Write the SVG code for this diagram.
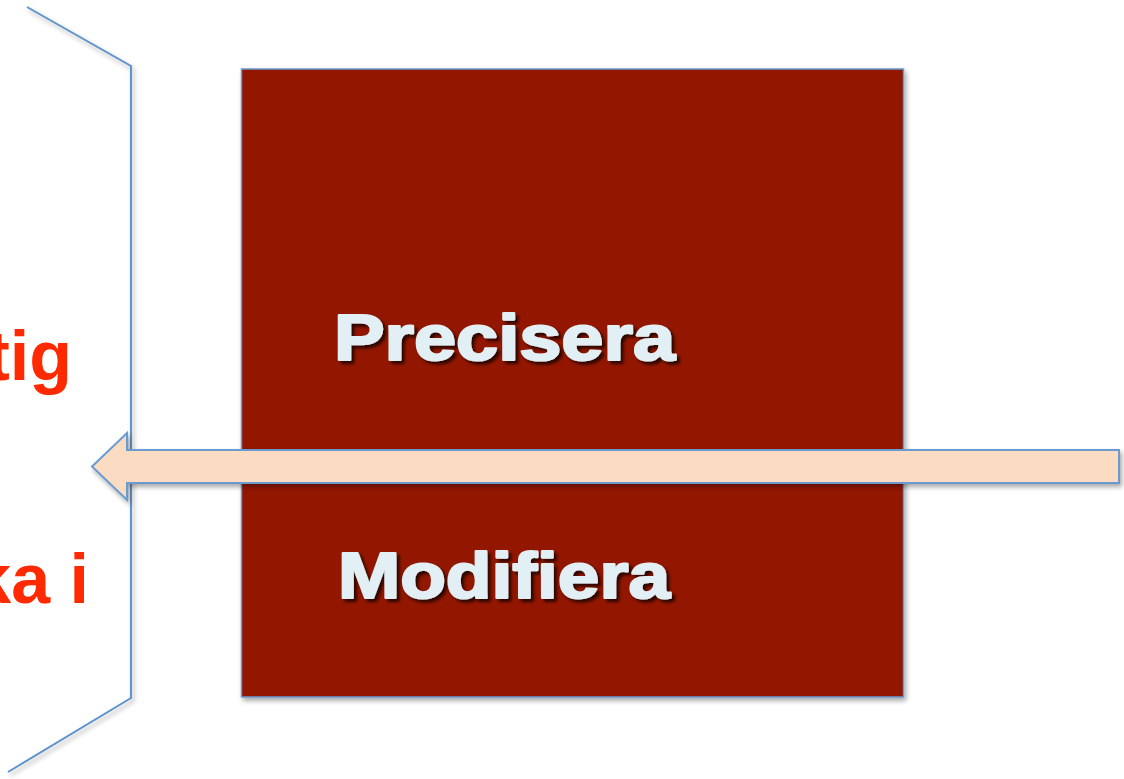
<svg xmlns="http://www.w3.org/2000/svg" width="1124" height="779" viewBox="0 0 1124 779">
<defs>
<filter id="sh" x="-10%" y="-10%" width="130%" height="130%">
<feGaussianBlur in="SourceAlpha" stdDeviation="2.5"/>
<feOffset dx="2" dy="3" result="b"/>
<feComponentTransfer><feFuncA type="linear" slope="0.35"/></feComponentTransfer>
<feMerge><feMergeNode/><feMergeNode in="SourceGraphic"/></feMerge>
</filter>
<filter id="tsh" x="-10%" y="-20%" width="130%" height="150%">
<feGaussianBlur in="SourceAlpha" stdDeviation="1.5"/>
<feOffset dx="3" dy="3"/>
<feComponentTransfer><feFuncA type="linear" slope="0.7"/></feComponentTransfer>
<feMerge><feMergeNode/><feMergeNode in="SourceGraphic"/></feMerge>
</filter>
</defs>
<style>
.red{font-family:"Liberation Sans",Arial,sans-serif;font-weight:bold;font-size:70px;fill:#FF2A00}
.lbl{font-family:"Liberation Sans",Arial,sans-serif;font-weight:bold;font-size:65px;fill:#E2F0F6;stroke:#E2F0F6;stroke-width:2.2;stroke-linejoin:round}
.edge{fill:none;stroke:#5F93CC;stroke-width:2}
</style>
<rect width="1124" height="779" fill="#ffffff"/>
<g id="bracket">
<polyline class="edge" filter="url(#sh)" points="27,7 131,66 131,698 8,772"/>
</g>
<g id="left-text">
<text class="red" x="72" y="380" text-anchor="end">tig</text>
<text class="red" x="89" y="603" text-anchor="end">ka i</text>
</g>
<g id="box">
<rect x="241.5" y="69" width="662" height="628" fill="#921400" stroke="#6A9BD0" stroke-width="1.5" filter="url(#sh)"/>
<text class="lbl" x="334" y="360" textLength="341" lengthAdjust="spacingAndGlyphs" filter="url(#tsh)">Precisera</text>
<text class="lbl" x="338" y="598" textLength="332" lengthAdjust="spacingAndGlyphs" filter="url(#tsh)">Modifiera</text>
</g>
<g id="connectors">
<polygon points="1119,450 127,450 127,433 92,466.5 127,500 127,483 1119,483" fill="#FBDCC2" stroke="#6A9BD0" stroke-width="2" stroke-linejoin="miter" filter="url(#sh)"/>
</g>
</svg>
